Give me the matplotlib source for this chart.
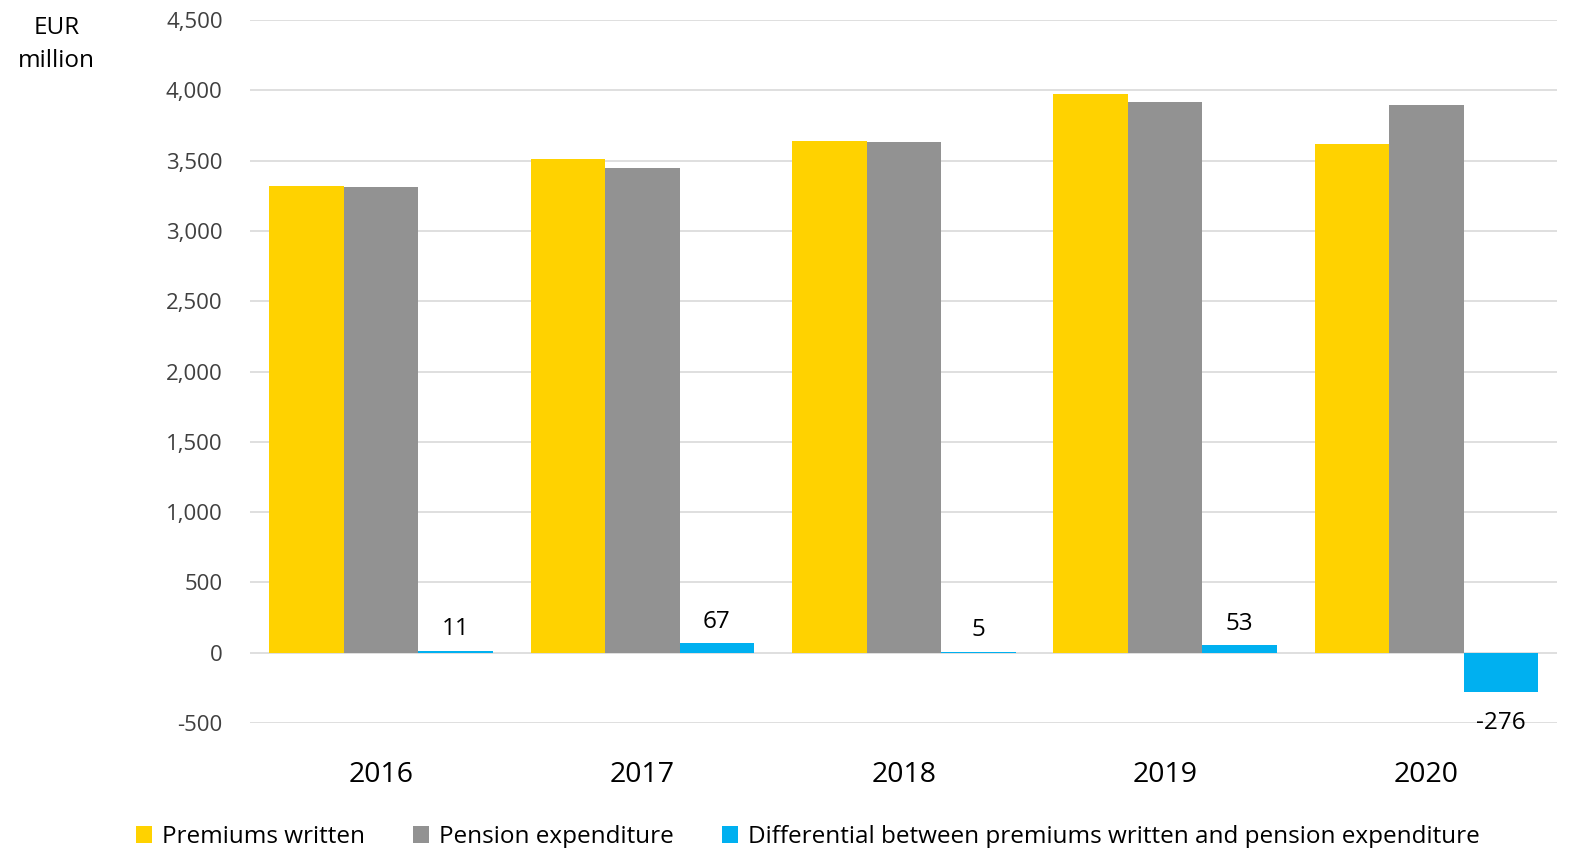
import numpy as np
import matplotlib
matplotlib.use('Agg')
import matplotlib.pyplot as plt
from matplotlib.ticker import FuncFormatter

plt.rcParams['font.family'] = ['Open Sans', 'DejaVu Sans']

years = ['2016', '2017', '2018', '2019', '2020']
premiums = [3320, 3512, 3638, 3972, 3617]
pensions = [3309, 3445, 3633, 3919, 3893]
differential = [11, 67, 5, 53, -276]

labels = ['Premiums written', 'Pension expenditure',
          'Differential between premiums written and pension expenditure']
colors = ['#FFD200', '#929292', '#00B0F0']

fig = plt.figure(figsize=(15.75, 8.48), dpi=100)
ax = fig.add_axes([0.159, 0.1474, 0.8297, 0.829])

x = np.arange(len(years))
w = 0.285
series = [premiums, pensions, differential]
bars = []
for i, vals in enumerate(series):
    b = ax.bar(x + (i - 1) * w, vals, w, color=colors[i], label=labels[i], zorder=3)
    bars.append(b)

# value labels on the differential bars
for rect, v in zip(bars[2], differential):
    cx = rect.get_x() + rect.get_width() / 2
    if v >= 0:
        ax.annotate(f'{v}', (cx, v), xytext=(0, 7), textcoords='offset points',
                    ha='center', va='bottom', fontsize=17.5)
    else:
        ax.annotate(f'{v}', (cx, v), xytext=(0, -14), textcoords='offset points',
                    ha='center', va='top', fontsize=17.5)

ax.set_xlim(-0.5, len(years) - 0.5)
ax.set_ylim(-500, 4500)
ax.set_yticks(np.arange(-500, 4501, 500))
ax.yaxis.set_major_formatter(FuncFormatter(lambda v, p: f'{int(v):,}'))
ax.set_xticks(x)
ax.set_xticklabels(years)
ax.tick_params(axis='y', length=0, labelsize=16, pad=20)
ax.tick_params(axis='x', length=0, labelsize=20.5, pad=27)
for lab in ax.get_yticklabels():
    lab.set_color('#404040')
ax.grid(axis='y', color='#D9D9D9', linewidth=1.2, zorder=0)
for s in ax.spines.values():
    s.set_visible(False)

fig.text(0.036, 0.947, 'EUR\nmillion', ha='center', va='center', fontsize=17.5,
         linespacing=1.5)

fig.legend(loc='lower center', bbox_to_anchor=(0.513, -0.027), ncol=3, frameon=False,
           fontsize=17.5, handlelength=0.65, handleheight=0.65, handletextpad=0.4,
           columnspacing=2.0)

fig.savefig('out.png', dpi=100)
